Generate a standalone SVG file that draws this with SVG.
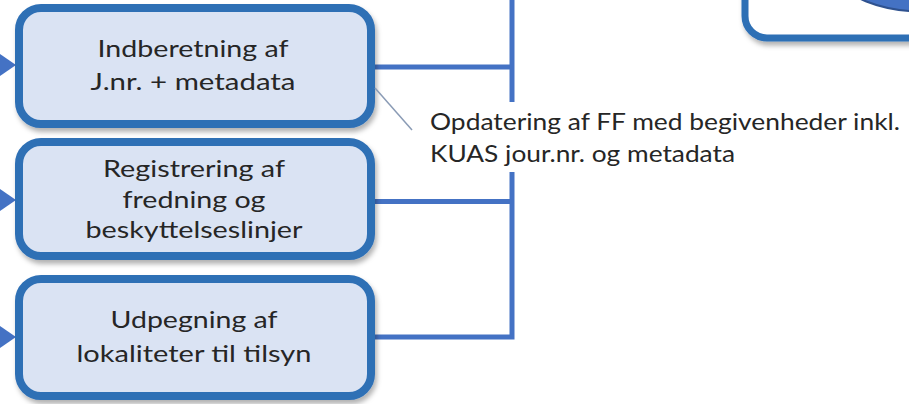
<svg xmlns="http://www.w3.org/2000/svg" width="909" height="404" viewBox="0 0 909 404">
<defs>
<filter id="sh" x="-10%" y="-10%" width="125%" height="130%">
<feDropShadow dx="2" dy="4" stdDeviation="2.5" flood-color="#000" flood-opacity="0.3"/>
</filter>
<style>
.box{fill:#DAE3F3;stroke:#2E6FB5;stroke-width:8;filter:url(#sh)}
.lbl{font-family:Lato,"Open Sans",sans-serif;font-size:24px;fill:#262626;text-anchor:middle}
.ann{font-family:Lato,"Open Sans",sans-serif;font-size:24px;fill:#262626}
.conn{fill:none;stroke:#4472C4;stroke-width:5;stroke-linejoin:miter;stroke-linecap:butt}
.arr{fill:#4472C4}
</style>
</defs>
<rect width="909" height="404" fill="#FFFFFF"/>

<g id="top-right">
<rect x="745" y="-40" width="220" height="78" rx="22" fill="#FFFFFF" stroke="#2E6FB5" stroke-width="7" filter="url(#sh)"/>
<ellipse cx="930" cy="-24" rx="90" ry="36" fill="#4472C4" stroke="#2F528F" stroke-width="2"/>
</g>

<g id="connectors">
<path class="conn" d="M375,67 H512"/>
<path class="conn" d="M375,201.5 H512"/>
<path class="conn" d="M375,337 H512 V0"/>
<polygon class="arr" points="0,54 16,65 0,76"/>
<polygon class="arr" points="0,189 16,200 0,211"/>
<polygon class="arr" points="0,326 16,337 0,348"/>
</g>

<g id="node-indberetning">
<rect class="box" x="19" y="8" width="352" height="116" rx="22"/>
<text class="lbl" x="193" y="57" textLength="191" lengthAdjust="spacingAndGlyphs">Indberetning af</text>
<text class="lbl" x="193" y="90" textLength="205" lengthAdjust="spacingAndGlyphs">J.nr. + metadata</text>
</g>

<g id="node-registrering">
<rect class="box" x="19" y="142" width="352" height="114" rx="22"/>
<text class="lbl" x="194" y="177" textLength="182" lengthAdjust="spacingAndGlyphs">Registrering af</text>
<text class="lbl" x="194" y="208" textLength="143" lengthAdjust="spacingAndGlyphs">fredning og</text>
<text class="lbl" x="194" y="238" textLength="217" lengthAdjust="spacingAndGlyphs">beskyttelseslinjer</text>
</g>

<g id="node-udpegning">
<rect class="box" x="19" y="279" width="352" height="117" rx="22"/>
<text class="lbl" x="194" y="328" textLength="167" lengthAdjust="spacingAndGlyphs">Udpegning af</text>
<text class="lbl" x="194" y="362" textLength="235" lengthAdjust="spacingAndGlyphs">lokaliteter til tilsyn</text>
</g>

<g id="annotation">
<rect x="422" y="102" width="484" height="70" fill="#FFFFFF"/>
<line x1="375" y1="88" x2="412" y2="130" stroke="#8A9BB5" stroke-width="1.5"/>
<text class="ann" x="430" y="130" textLength="470" lengthAdjust="spacingAndGlyphs">Opdatering af FF med begivenheder inkl.</text>
<text class="ann" x="430" y="162" textLength="305" lengthAdjust="spacingAndGlyphs">KUAS jour.nr. og metadata</text>
</g>
</svg>
